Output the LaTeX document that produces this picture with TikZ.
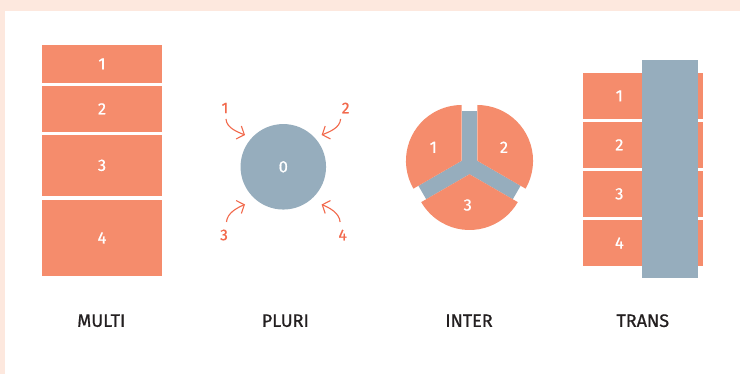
\documentclass[tikz,border=0pt]{standalone}
\usepackage{fontspec}
\setmainfont{Fira Sans}[FakeBold=0.7]
\usetikzlibrary{arrows.meta,calc}
\definecolor{framepink}{HTML}{FDE8DE}
\definecolor{salmon}{HTML}{F58C6C}
\definecolor{slate}{HTML}{96ADBD}
\definecolor{coral}{HTML}{F2694C}
\definecolor{ink}{HTML}{231F20}
\begin{document}
\begin{tikzpicture}[x=1pt,y=-1pt,
  block/.style={fill=salmon,inner sep=0pt,outer sep=0pt,minimum width=120pt},
  bar/.style={fill=slate,inner sep=0pt,outer sep=0pt},
  num/.style={text=white,font=\fontsize{16.5}{16.5}\selectfont},
  caption/.style={text=ink,font=\fontsize{18}{18}\selectfont},
  cnum/.style={text=coral,font=\fontsize{15.5}{15.5}\selectfont},
  carrow/.style={draw=coral,line width=1.1pt,-{Straight Barb[length=6pt,width=14pt]}}]
\fill[framepink] (0,0) rectangle (740,374);
\fill[white] (4.7,11) rectangle (740,374);
\useasboundingbox (0,0) rectangle (740,374);
% MULTI
\node[block,minimum height=37.7pt,num] (m1) at (102,63.85) {1};
\node[block,minimum height=45.7pt,num] (m2) at (102,108.85) {2};
\node[block,minimum height=60.7pt,num] (m3) at (102,165.35) {3};
\node[block,minimum height=75.7pt,num] (m4) at (102,237.85) {4};
% PLURI
\node[circle,fill=slate,minimum size=85.5pt,inner sep=0pt,num] (zero) at (283.3,166.8) {0};
\node[cnum] (l1) at (225,108) {1};
\node[cnum] (l2) at (345.7,108) {2};
\node[cnum] (l3) at (224,235) {3};
\node[cnum] (l4) at (342.6,235) {4};
\coordinate (a1s) at (226,119);   \coordinate (a1e) at (245,135);
\coordinate (a2s) at (340.6,119); \coordinate (a2e) at (321.6,135);
\coordinate (a3s) at (226.5,222); \coordinate (a3e) at (245,204.5);
\coordinate (a4s) at (340.1,222); \coordinate (a4e) at (321.6,204.5);
\draw[carrow] (a1s) .. controls (226.5,128) and (237.6,132) .. (a1e);
\draw[carrow] (a2s) .. controls (340.1,128) and (329,132) .. (a2e);
\draw[carrow] (a3s) .. controls (227,213) and (237.6,207.5) .. (a3e);
\draw[carrow] (a4s) .. controls (339.6,213) and (329,207.5) .. (a4e);
% INTER
\coordinate (c) at (469.5,165.25);
\draw[slate,line width=15.6pt] (c) -- ($(c)+(270:54.5)$);
\draw[slate,line width=15.6pt] (c) -- ($(c)+(30:54.5)$);
\draw[slate,line width=15.6pt] (c) -- ($(c)+(150:54.5)$);
\fill[slate] (c) circle (9);
\fill[salmon] ($(c)+(210:9)$) -- +(150:55.75) arc[start angle=150,end angle=270,radius=55.75] -- cycle;
\fill[salmon] ($(c)+(330:9)$) -- +(270:55.75) arc[start angle=270,end angle=390,radius=55.75] -- cycle;
\fill[salmon] ($(c)+(90:9)$) -- +(30:55.75) arc[start angle=30,end angle=150,radius=55.75] -- cycle;
\node[num] (i1) at (433.3,147.3) {1};
\node[num] (i2) at (504,147.3) {2};
\node[num] (i3) at (467.7,205) {3};
% TRANS
\node[block,minimum width=120.6pt,minimum height=46.3pt] (t1) at (643,95.85) {};
\node[block,minimum width=120.6pt,minimum height=45.7pt] (t2) at (643,144.85) {};
\node[block,minimum width=120.6pt,minimum height=45.7pt] (t3) at (643,193.85) {};
\node[block,minimum width=120.6pt,minimum height=46pt] (t4) at (643,243) {};
\node[num] (n1) at (619.3,95.85) {1};
\node[num] (n2) at (619.3,144.85) {2};
\node[num] (n3) at (619.3,193.85) {3};
\node[num] (n4) at (619.3,243) {4};
\node[bar,minimum width=56pt,minimum height=218pt] (g) at (670,169) {};
% captions
\node[caption] (cm) at (101.3,320.7) {MULTI};
\node[caption] (cp) at (285.3,320.7) {PLURI};
\node[caption] (ci) at (469,320.7) {INTER};
\node[caption] (ct) at (642.8,320.7) {TRANS};
\end{tikzpicture}
\end{document}
